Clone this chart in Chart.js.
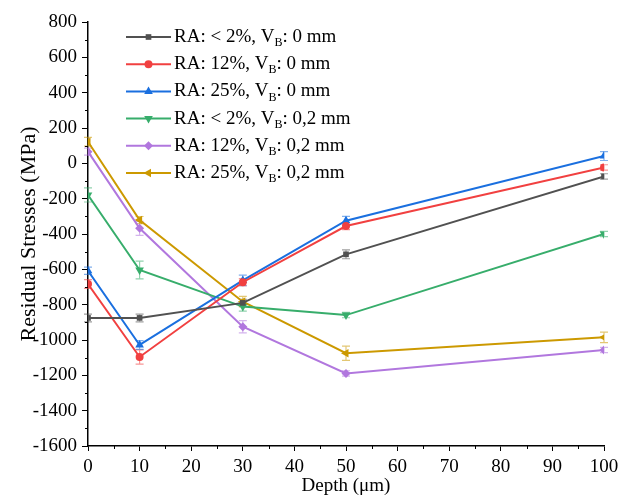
<!DOCTYPE html>
<html><head><meta charset="utf-8">
<script src="https://cdn.jsdelivr.net/npm/chart.js@4/dist/chart.umd.min.js"></script>
<style>html,body{margin:0;padding:0;background:#fff}#wrap{width:633px;height:497px}</style>
</head><body><div id="wrap"><canvas id="c" width="633" height="497"></canvas></div>
<script>
const depths = [0, 10, 30, 50, 100];
const seriesNames = ["RA: < 2%, V|B|: 0 mm","RA: 12%, V|B|: 0 mm","RA: 25%, V|B|: 0 mm","RA: < 2%, V|B|: 0,2 mm","RA: 12%, V|B|: 0,2 mm","RA: 25%, V|B|: 0,2 mm"];
const ra2_0  = [-875, -875, -790, -515, -74];
const ra12_0 = [-683, -1096, -673, -355, -23];
const ra25_0 = [-608, -1028, -663, -325, 41];
const ra2_02 = [-179, -604, -811, -859, -400];
const ra12_02 = [66, -368, -925, -1189, -1057];
const ra25_02 = [122, -321, -783, -1075, -985];
const err2_0 = [22, 22, 20, 25, 15];
const err12_0 = [25, 40, 20, 20, 15];
const err25_0 = [20, 25, 30, 25, 25];
const err2_02 = [40, 50, 25, 15, 15];
const err12_02 = [20, 40, 35, 15, 15];
const err25_02 = [25, 20, 30, 40, 30];
const yTicks = [-1600,-1400,-1200,-1000,-800,-600,-400,-200,0,200,400,600,800];
const xTicks = [0,10,20,30,40,50,60,70,80,90,100];

const colors = ["#515151","#F14040","#1A6FDF","#37AD6B","#B177DE","#CC9900"];
const styles = [["rect",0],["circle",0],["triangle",0],["triangle",180],["rectRot",0],["triangle",-90]];
const radii = [4,4,5,5,4.5,5];
const vals = [ra2_0, ra12_0, ra25_0, ra2_02, ra12_02, ra25_02];
const errs = [err2_0, err12_0, err25_0, err2_02, err12_02, err25_02];

const datasets = vals.map((v,i)=>({
  label: seriesNames[i],
  data: depths.map((d,j)=>({x:d,y:v[j]})),
  errors: errs[i],
  borderColor: colors[i], backgroundColor: colors[i],
  borderWidth: 2, pointStyle: styles[i][0], rotation: styles[i][1],
  pointRadius: radii[i], pointBorderWidth: 0, tension: 0
}));

const FONT = "'Liberation Serif','Times New Roman',serif";

const errorBars = {
  id:'errorBars',
  beforeDatasetsDraw(chart){
    const ctx = chart.ctx, ys = chart.scales.y, xs = chart.scales.x;
    chart.data.datasets.forEach((ds,i)=>{
      ctx.save(); ctx.strokeStyle = ds.borderColor; ctx.globalAlpha = 0.55; ctx.lineWidth = 1.2;
      ds.data.forEach((p,j)=>{
        const e = ds.errors[j]; const px = xs.getPixelForValue(p.x);
        const y1 = ys.getPixelForValue(p.y+e), y2 = ys.getPixelForValue(p.y-e);
        ctx.beginPath(); ctx.moveTo(px,y1); ctx.lineTo(px,y2);
        ctx.moveTo(px-4,y1); ctx.lineTo(px+4,y1); ctx.moveTo(px-4,y2); ctx.lineTo(px+4,y2); ctx.stroke();
      });
      ctx.restore();
    });
  }
};

const minorTicks = {
  id:'minorTicks',
  afterDraw(chart){
    const ctx = chart.ctx, ys = chart.scales.y, xs = chart.scales.x, a = chart.chartArea;
    ctx.save(); ctx.strokeStyle='#000'; ctx.lineWidth=1;
    for(let v=-1500; v<800; v+=200){ const py=Math.round(ys.getPixelForValue(v))+0.5; ctx.beginPath(); ctx.moveTo(a.left-3,py); ctx.lineTo(a.left,py); ctx.stroke(); }
    for(let v=5; v<100; v+=10){ const px=Math.round(xs.getPixelForValue(v))+0.5; ctx.beginPath(); ctx.moveTo(px,a.bottom); ctx.lineTo(px,a.bottom+3); ctx.stroke(); }
    ctx.restore();
  }
};

const customLegend = {
  id:'customLegend',
  afterDraw(chart){
    const ctx = chart.ctx;
    const x0 = 126, y0 = 37, dy = 27.2, lineLen = 45;
    chart.data.datasets.forEach((ds,i)=>{
      const y = y0 + i*dy;
      ctx.save();
      ctx.strokeStyle = ds.borderColor; ctx.lineWidth = 2;
      ctx.beginPath(); ctx.moveTo(x0,y); ctx.lineTo(x0+lineLen,y); ctx.stroke();
      ctx.fillStyle = ds.borderColor;
      Chart.helpers.drawPoint(ctx,{pointStyle:ds.pointStyle,rotation:ds.rotation,radius:ds.pointRadius,borderWidth:0},x0+lineLen/2,y);
      ctx.fillStyle = '#000'; ctx.textBaseline='middle';
      const parts = ds.label.split('|');
      let tx = x0 + lineLen + 3;
      ctx.font = "19px "+FONT; ctx.fillText(parts[0],tx,y); tx += ctx.measureText(parts[0]).width;
      ctx.font = "12px "+FONT; ctx.fillText(parts[1],tx,y+6); tx += ctx.measureText(parts[1]).width;
      ctx.font = "19px "+FONT; ctx.fillText(parts[2],tx,y);
      ctx.restore();
    });
  }
};

new Chart(document.getElementById('c'),{
  type:'line',
  data:{datasets},
  options:{
    responsive:false, animation:false, devicePixelRatio:1,
    layout:{padding:{left:0,top:22,right:29,bottom:0}},
    plugins:{legend:{display:false},tooltip:{enabled:false}},
    scales:{
      x:{type:'linear',min:0,max:100,
        afterBuildTicks:s=>{s.ticks=xTicks.map(v=>({value:v}));},
        afterFit:s=>{s.height=51;},
        grid:{drawOnChartArea:false,drawTicks:true,tickLength:5,color:'#000',lineWidth:1},
        border:{display:true,color:'#000',width:1.5},
        ticks:{color:'#000',font:{family:FONT,size:19},padding:5,maxRotation:0,callback:v=>String(v)},
        title:{display:true,text:'Depth (μm)',color:'#000',font:{family:FONT,size:19},padding:{top:-6,bottom:0}}
      },
      y:{type:'linear',min:-1600,max:800,
        afterBuildTicks:s=>{s.ticks=yTicks.map(v=>({value:v}));},
        afterFit:s=>{s.width=88;},
        grid:{drawOnChartArea:false,drawTicks:true,tickLength:6,color:'#000',lineWidth:1},
        border:{display:true,color:'#000',width:1.5},
        ticks:{color:'#000',font:{family:FONT,size:19},padding:5,callback:v=>String(v)},
        title:{display:true,text:'Residual Stresses (MPa)',color:'#000',font:{family:FONT,size:22},padding:{top:16,bottom:0}}
      }
    }
  },
  plugins:[errorBars,minorTicks,customLegend]
});
</script></body></html>
